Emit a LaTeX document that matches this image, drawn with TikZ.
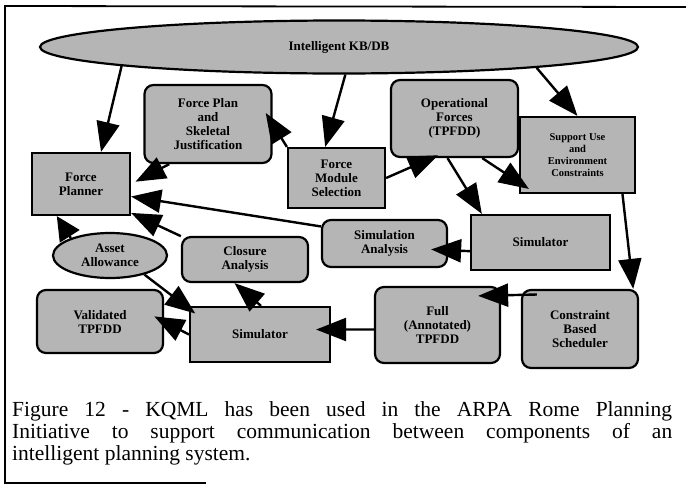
\documentclass[tikz,border=0pt]{standalone}
\usepackage{fontspec}
\setmainfont{Liberation Serif}
\usetikzlibrary{arrows.meta,shapes.geometric}
\begin{document}
\begin{tikzpicture}[x=1pt,y=-1pt,
  base/.style={draw=black,line width=2.2pt,fill=gray!58,align=center,inner sep=1pt,
    font=\bfseries\fontsize{13}{14}\selectfont},
  sq/.style={base,rectangle},
  rd/.style={base,rectangle,rounded corners=9pt},
  arr/.style={line width=2.4pt,-{Triangle[length=30pt,width=23pt]}},
  frame/.style={line width=1.8pt,line cap=rect}
]
\useasboundingbox (0,0) rectangle (686,485);
% frame
\draw[frame] (686,7) -- (5,6) -- (5,483) -- (205,483);

% nodes
\node[base,ellipse,minimum width=598pt,minimum height=53pt] (kb) at (339,47) {Intelligent KB/DB};
\node[rd,minimum width=127pt,minimum height=78pt] (fplan) at (208,124) {Force Plan\\and\\Skeletal\\Justification};
\node[sq,minimum width=98pt,minimum height=62pt] (fplanner) at (81,184) {Force\\Planner};
\node[sq,minimum width=97pt,minimum height=60pt] (fms) at (336.5,178) {Force\\Module\\Selection};
\node[rd,minimum width=127pt,minimum height=77pt] (opf) at (454.5,118.5) {Operational\\Forces\\(TPFDD)};
\node[sq,minimum width=115pt,minimum height=76pt,font=\bfseries\fontsize{10.5}{12}\selectfont] (support) at (577.5,155) {Support Use\\and\\Environment\\Constraints};
\node[rd,minimum width=125pt,minimum height=47pt] (sa) at (384.5,243.5) {Simulation\\Analysis};
\node[sq,minimum width=139pt,minimum height=55pt] (simr) at (540.5,242.5) {Simulator};
\node[base,ellipse,minimum width=114pt,minimum height=45pt] (aa) at (110,255.5) {Asset\\Allowance};
\node[rd,minimum width=126pt,minimum height=45pt] (closure) at (245,259.5) {Closure\\Analysis};
\node[rd,minimum width=126pt,minimum height=63pt] (val) at (100,321.5) {Validated\\TPFDD};
\node[sq,minimum width=140pt,minimum height=55pt] (simb) at (260,334.5) {Simulator};
\node[rd,minimum width=125pt,minimum height=76pt] (full) at (437.5,325) {Full\\(Annotated)\\TPFDD};
\node[rd,minimum width=116pt,minimum height=78pt] (cbs) at (580,329) {Constraint\\Based\\Scheduler};

% connectors
\draw[arr] (kb.185) -- (fplanner.58);
\draw[arr] (kb.283) -- (fms.110);
\draw[arr] (kb.-6) -- (support.north);
\draw[arr,shorten >=-13pt] (fms.north west) -- (fplan.east);
\draw[arr,shorten >=5pt] (fplan.226) -- (fplanner.east);
\draw[arr] (sa.165) -- (fplanner.-14);
\draw[arr] (closure.160) -- (fplanner.-30);
\draw[arr,-{Triangle[length=24pt,width=23pt]}] (aa.156) -- (fplanner.233);
\draw[arr,shorten >=-8pt] (aa.-29) -- (simb.160);
\draw[arr] (simb.88) -- (closure.246);
\draw[arr,shorten >=-11pt] (simb.west) -- (val.east);
\draw[arr,shorten >=-15pt] (full.184) -- (simb.4);
\draw[arr,shorten >=-23pt,shorten <=-16pt] (cbs.150) -- (full.25);
\draw[arr,shorten >=-12pt] (opf.-55) -- (support.205);
\draw[arr,shorten >=-7pt] (fms.east) -- (opf.-120);
\draw[arr] (opf.-100) -- (simr.154);
\draw[arr] (support.-41) -- (cbs.37);
\draw[arr,shorten >=-17pt] (simr.187) -- (sa.-6);

% caption
\node[anchor=north west,inner sep=0pt,text width=660pt,align=left,
  font=\fontsize{21.5}{22}\selectfont] (cap) at (12,401)
  {\spaceskip=0pt\xspaceskip=0pt\relax
   \makebox[660pt][s]{Figure 12 - KQML has been used in the ARPA Rome Planning}\\
   \makebox[660pt][s]{Initiative to support communication between components of an}\\
   intelligent planning system.};
\end{tikzpicture}
\end{document}
